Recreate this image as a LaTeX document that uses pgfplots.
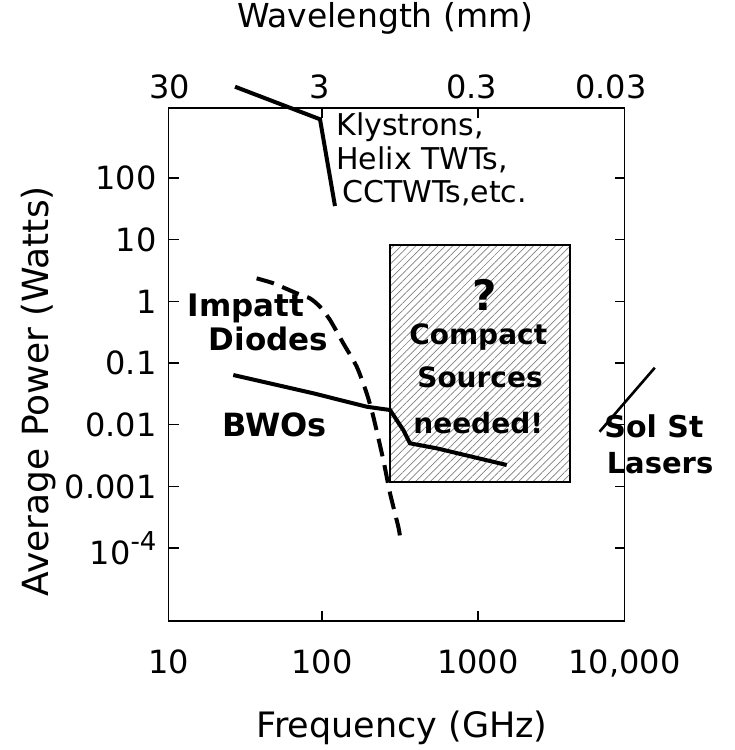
\documentclass[border=0pt]{standalone}
\usepackage{pgfplots}
\pgfplotsset{compat=1.18}
\usetikzlibrary{patterns,patterns.meta}
\usepackage{fontspec}
\setmainfont{DejaVu Sans}
\begin{document}
\begin{tikzpicture}
\useasboundingbox (-84.3pt,-64.5pt) rectangle (282.7pt,310.5pt);
\begin{axis}[
  scale only axis, width=228pt, height=256.5pt,
  xmode=log, ymode=log,
  xmin=10.39, xmax=8703, ymin=6.56e-6, ymax=1365,
  xtick={10.39,100,1000,8703}, xticklabels={10,100,1000,{10,000}},
  ytick={1e-4,1e-3,1e-2,1e-1,1,10,100},
  yticklabels={{10\raisebox{0.8ex}{\fontsize{13}{13}\selectfont -4}},0.001,0.01,0.1,1,10,100},
  xminorticks=false, yminorticks=false,
  tick align=inside, major tick length=5pt,
  tick style={black, line width=0.8pt},
  axis line style={line width=0.8pt},
  ticklabel style={font=\fontsize{16}{18}\selectfont},
  xticklabel style={yshift=-11pt},
  yticklabel style={xshift=-2.5pt},
  xlabel={Frequency (GHz)}, ylabel={Average Power (Watts)},
  label style={font=\fontsize{17.5}{20}\selectfont},
  xlabel style={at={(rel axis cs:0.512,-0.2086)}, anchor=center},
  ylabel style={at={(rel axis cs:-0.285,0.448)}, anchor=center, font=\fontsize{18}{20}\selectfont},
  title={Wavelength (mm)},
  title style={at={(rel axis cs:0.475,1.152)}, anchor=center, font=\fontsize{16.5}{20}\selectfont},
  clip=false,
]
% hatched region
\addplot[draw=black, line width=0.9pt, pattern={Lines[angle=45,distance=2.6pt,line width=0.35pt]}, pattern color=gray]
  coordinates {(272.9,8.2) (3890,8.2) (3890,0.00119) (272.9,0.00119)} --cycle;
% Klystrons etc.
\addplot[black, line width=2pt] coordinates {(27.7,3020) (97.1,896) (121.1,35.1)};
% Impatt diodes
\addplot[black, line width=2pt, dash pattern=on 9pt off 4.5pt, smooth, tension=0.4] coordinates {
 (38.1,2.36) (48.8,1.96) (68.9,1.35) (83.7,1.12) (97.1,0.818) (112.6,0.498)
 (136.9,0.2088) (167,0.0871) (193.4,0.0323) (213.3,0.01347) (247.2,0.002676)
 (272.9,7.72e-4) (308.4,2.22e-4) (316.2,1.526e-4)};
% BWOs
\addplot[black, line width=2pt] coordinates {
 (27.0,0.0639) (87.9,0.0323) (193.4,0.01956) (272.9,0.0173) (331.9,0.0082)
 (366.4,0.00499) (543.3,0.00414) (1528,0.00222)};
% Solid state lasers
\addplot[black, line width=1.3pt] coordinates {(6012,0.00769) (13590,0.0839)};
% top wavelength labels
\node[font=\fontsize{16}{18}\selectfont] at (rel axis cs:0.003,1.041) {30};
\node[font=\fontsize{16}{18}\selectfont] at (rel axis cs:0.332,1.041) {3};
\node[font=\fontsize{16}{18}\selectfont] at (rel axis cs:0.665,1.041) {0.3};
\node[font=\fontsize{16}{18}\selectfont] at (rel axis cs:0.970,1.041) {0.03};
% annotations
\node[anchor=west, font=\fontsize{15}{18}\selectfont, inner sep=0pt] at (rel axis cs:0.367,0.963) {Klystrons,};
\node[anchor=west, font=\fontsize{15}{18}\selectfont, inner sep=0pt] at (rel axis cs:0.367,0.899) {Helix TWTs,};
\node[anchor=west, font=\fontsize{15}{18}\selectfont, inner sep=0pt] at (rel axis cs:0.380,0.834) {CCTWTs,etc.};
\node[font=\bfseries\fontsize{15.5}{18}\selectfont, inner sep=0pt] at (rel axis cs:0.170,0.610) {Impatt};
\node[font=\bfseries\fontsize{15.5}{18}\selectfont, inner sep=0pt] at (rel axis cs:0.219,0.550) {Diodes};
\node[font=\bfseries\fontsize{16}{18}\selectfont, inner sep=0pt] at (rel axis cs:0.233,0.382) {BWOs};
\node[font=\bfseries\fontsize{21}{24}\selectfont, inner sep=0pt] at (rel axis cs:0.694,0.635) {?};
\node[font=\bfseries\fontsize{14}{17}\selectfont, inner sep=0pt] at (rel axis cs:0.679,0.554) {Compact};
\node[font=\bfseries\fontsize{14}{17}\selectfont, inner sep=0pt] at (rel axis cs:0.683,0.476) {Sources};
\node[font=\bfseries\fontsize{14}{17}\selectfont, inner sep=0pt] at (rel axis cs:0.679,0.385) {needed!};
\node[anchor=west, font=\bfseries\fontsize{15}{17}\selectfont, inner sep=0pt] at (rel axis cs:0.955,0.379) {Sol St};
\node[anchor=west, font=\bfseries\fontsize{14.5}{17}\selectfont, inner sep=0pt] at (rel axis cs:0.960,0.307) {Lasers};
\end{axis}
\end{tikzpicture}
\end{document}
